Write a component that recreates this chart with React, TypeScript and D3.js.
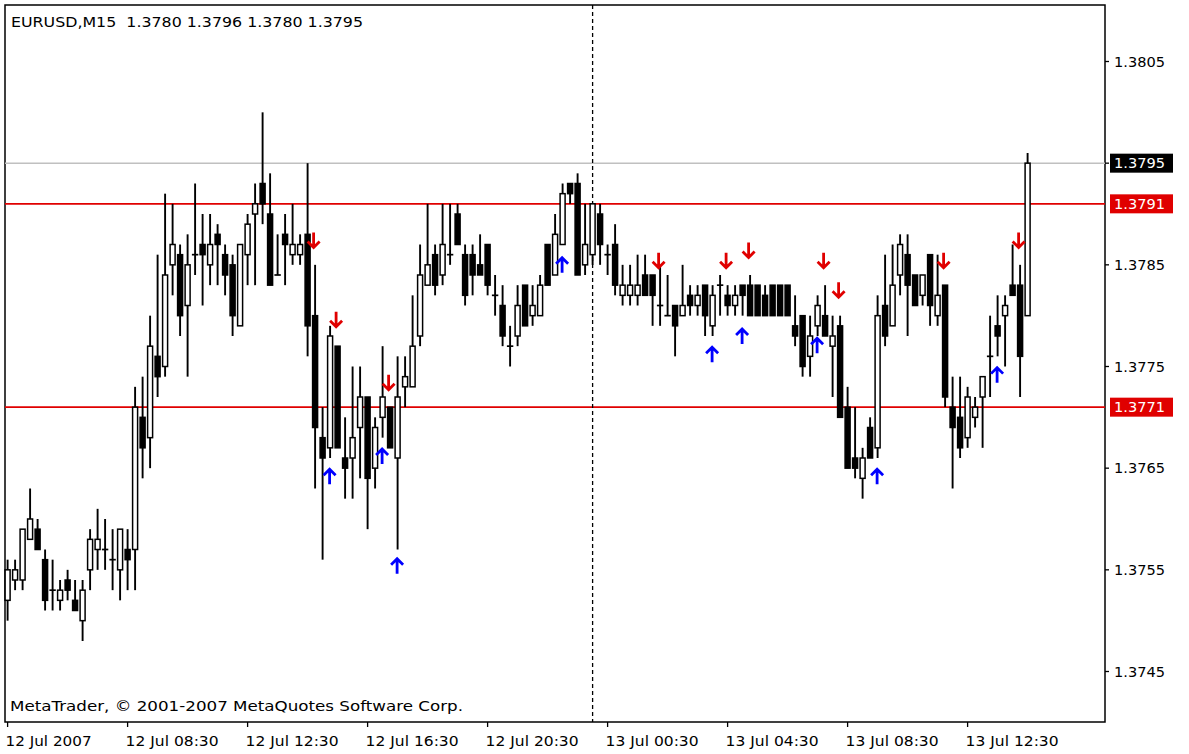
import React from 'react';
import * as d3 from 'd3';

// ---------- DATA ----------
const symbol = 'EURUSD,M15';
const opens = [
  1.3752, 1.3754, 1.3754, 1.3758, 1.3759, 1.3756, 1.3753, 1.3752, 1.3754, 1.3752,
  1.3750, 1.3755, 1.3757, 1.3757, 1.3756, 1.3755, 1.3757, 1.3757, 1.3770, 1.3768,
  1.3776, 1.3775, 1.3785, 1.3786, 1.3781, 1.3786, 1.3787, 1.3785, 1.3788, 1.3786,
  1.3785, 1.3779, 1.3786, 1.3790, 1.3793, 1.3790, 1.3784, 1.3788, 1.3786, 1.3786,
  1.3788, 1.3780, 1.3768, 1.3767, 1.3777, 1.3766, 1.3766, 1.3769, 1.3772, 1.3765,
  1.3770, 1.3771, 1.3766, 1.3773, 1.3773, 1.3778, 1.3783, 1.3786, 1.3784, 1.3786,
  1.3790, 1.3786, 1.3786, 1.3785, 1.3787, 1.3782, 1.3781, 1.3777, 1.3778, 1.3783,
  1.3780, 1.3780, 1.3787, 1.3784, 1.3787, 1.3793, 1.3793, 1.3785, 1.3786, 1.3790,
  1.3786, 1.3787, 1.3782, 1.3782, 1.3782, 1.3784, 1.3784, 1.3781, 1.3780, 1.3781,
  1.3780, 1.3782, 1.3781, 1.3783, 1.3779, 1.3783, 1.3782, 1.3781, 1.3783, 1.3783,
  1.3783, 1.3782, 1.3783, 1.3783, 1.3783, 1.3779, 1.3780, 1.3776, 1.3779, 1.3780,
  1.3777, 1.3779, 1.3771, 1.3766, 1.3764, 1.3769, 1.3767, 1.3781, 1.3779, 1.3784,
  1.3786, 1.3784, 1.3782, 1.3786, 1.3780, 1.3783, 1.3771, 1.3770, 1.3768, 1.3770,
  1.3772, 1.3776, 1.3779, 1.3780, 1.3783, 1.3783, 1.3780,
];
const highs = [
  1.3756, 1.3756, 1.3759, 1.3763, 1.3760, 1.3757, 1.3756, 1.3754, 1.3755, 1.3754,
  1.3754, 1.3759, 1.3761, 1.3760, 1.3759, 1.3759, 1.3759, 1.3773, 1.3774, 1.3780,
  1.3786, 1.3792, 1.3791, 1.3787, 1.3788, 1.3793, 1.3790, 1.3790, 1.3789, 1.3787,
  1.3786, 1.3787, 1.3790, 1.3793, 1.3800, 1.3794, 1.3788, 1.3790, 1.3791, 1.3788,
  1.3795, 1.3785, 1.3771, 1.3779, 1.3777, 1.3770, 1.3775, 1.3775, 1.3772, 1.3770,
  1.3777, 1.3771, 1.3776, 1.3776, 1.3782, 1.3787, 1.3791, 1.3787, 1.3791, 1.3791,
  1.3791, 1.3787, 1.3787, 1.3788, 1.3787, 1.3784, 1.3783, 1.3779, 1.3783, 1.3783,
  1.3783, 1.3784, 1.3787, 1.3790, 1.3793, 1.3793, 1.3794, 1.3791, 1.3791, 1.3791,
  1.3787, 1.3789, 1.3785, 1.3785, 1.3786, 1.3786, 1.3784, 1.3785, 1.3784, 1.3781,
  1.3785, 1.3783, 1.3783, 1.3783, 1.3783, 1.3784, 1.3783, 1.3783, 1.3783, 1.3784,
  1.3783, 1.3783, 1.3783, 1.3783, 1.3783, 1.3782, 1.3780, 1.3780, 1.3782, 1.3783,
  1.3780, 1.3780, 1.3773, 1.3771, 1.3767, 1.3770, 1.3782, 1.3786, 1.3787, 1.3788,
  1.3788, 1.3784, 1.3784, 1.3786, 1.3786, 1.3783, 1.3774, 1.3774, 1.3773, 1.3772,
  1.3774, 1.3780, 1.3782, 1.3782, 1.3787, 1.3785, 1.3796,
];
const lows = [
  1.3750, 1.3753, 1.3753, 1.3758, 1.3757, 1.3751, 1.3751, 1.3751, 1.3752, 1.3751,
  1.3748, 1.3753, 1.3755, 1.3755, 1.3753, 1.3752, 1.3753, 1.3753, 1.3764, 1.3765,
  1.3772, 1.3774, 1.3782, 1.3778, 1.3774, 1.3784, 1.3781, 1.3783, 1.3783, 1.3782,
  1.3778, 1.3779, 1.3783, 1.3783, 1.3789, 1.3783, 1.3784, 1.3783, 1.3785, 1.3785,
  1.3776, 1.3763, 1.3756, 1.3766, 1.3767, 1.3762, 1.3762, 1.3764, 1.3759, 1.3763,
  1.3768, 1.3767, 1.3757, 1.3771, 1.3773, 1.3777, 1.3783, 1.3782, 1.3783, 1.3785,
  1.3787, 1.3781, 1.3782, 1.3784, 1.3782, 1.3780, 1.3777, 1.3775, 1.3777, 1.3779,
  1.3779, 1.3780, 1.3783, 1.3784, 1.3787, 1.3791, 1.3784, 1.3784, 1.3785, 1.3785,
  1.3784, 1.3782, 1.3781, 1.3781, 1.3781, 1.3782, 1.3779, 1.3779, 1.3780, 1.3776,
  1.3780, 1.3780, 1.3780, 1.3778, 1.3778, 1.3780, 1.3780, 1.3780, 1.3780, 1.3780,
  1.3780, 1.3780, 1.3780, 1.3780, 1.3780, 1.3777, 1.3774, 1.3774, 1.3778, 1.3778,
  1.3772, 1.3770, 1.3765, 1.3764, 1.3762, 1.3766, 1.3766, 1.3777, 1.3779, 1.3782,
  1.3778, 1.3781, 1.3781, 1.3779, 1.3779, 1.3771, 1.3763, 1.3766, 1.3767, 1.3769,
  1.3767, 1.3772, 1.3776, 1.3775, 1.3782, 1.3772, 1.3780,
];
const closes = [
  1.3755, 1.3755, 1.3759, 1.3760, 1.3757, 1.3752, 1.3753, 1.3753, 1.3753, 1.3751,
  1.3753, 1.3758, 1.3758, 1.3757, 1.3756, 1.3759, 1.3756, 1.3771, 1.3767, 1.3777,
  1.3774, 1.3784, 1.3787, 1.3780, 1.3785, 1.3786, 1.3786, 1.3787, 1.3787, 1.3784,
  1.3780, 1.3787, 1.3789, 1.3791, 1.3791, 1.3783, 1.3784, 1.3787, 1.3787, 1.3787,
  1.3779, 1.3769, 1.3766, 1.3778, 1.3767, 1.3765, 1.3768, 1.3772, 1.3764, 1.3769,
  1.3772, 1.3767, 1.3772, 1.3774, 1.3777, 1.3784, 1.3785, 1.3783, 1.3787, 1.3786,
  1.3787, 1.3782, 1.3784, 1.3784, 1.3783, 1.3782, 1.3778, 1.3777, 1.3781, 1.3779,
  1.3781, 1.3783, 1.3783, 1.3788, 1.3792, 1.3792, 1.3784, 1.3787, 1.3791, 1.3787,
  1.3786, 1.3783, 1.3783, 1.3783, 1.3783, 1.3782, 1.3782, 1.3781, 1.3780, 1.3779,
  1.3781, 1.3781, 1.3782, 1.3780, 1.3782, 1.3783, 1.3781, 1.3782, 1.3782, 1.3780,
  1.3780, 1.3780, 1.3780, 1.3780, 1.3780, 1.3778, 1.3775, 1.3778, 1.3781, 1.3778,
  1.3778, 1.3770, 1.3765, 1.3765, 1.3766, 1.3766, 1.3780, 1.3778, 1.3783, 1.3787,
  1.3783, 1.3781, 1.3784, 1.3781, 1.3782, 1.3772, 1.3769, 1.3767, 1.3772, 1.3771,
  1.3774, 1.3776, 1.3778, 1.3781, 1.3782, 1.3776, 1.3795,
];

const timeLabels = [
  '12 Jul 2007', '12 Jul 08:30', '12 Jul 12:30', '12 Jul 16:30', '12 Jul 20:30',
  '13 Jul 00:30', '13 Jul 04:30', '13 Jul 08:30', '13 Jul 12:30',
];
const timeLabelBars = [0, 16, 32, 48, 64, 80, 96, 112, 128];
const daySeparatorBar = 78;

const priceTicks = [1.3805, 1.3795, 1.3785, 1.3775, 1.3765, 1.3755, 1.3745];
const levelLines = [1.3791, 1.3771];
const bidPrice = 1.3795;

const sellArrowBars = [41, 44, 51, 87, 96, 99, 109, 111, 125, 135];
const sellArrowPrices = [1.37874, 1.37796, 1.37734, 1.37854, 1.37854, 1.37864, 1.37854, 1.37825, 1.37854, 1.37874];
const buyArrowBars = [43, 50, 52, 74, 94, 98, 108, 116, 132];
const buyArrowPrices = [1.37642, 1.37662, 1.37554, 1.37850, 1.37762, 1.37780, 1.37771, 1.37642, 1.37742];

const copyright = 'MetaTrader, \u00A9 2001-2007 MetaQuotes Software Corp.';

// ---------- LAYOUT ----------
const W = 1189;
const H = 754;
const left = 5;
const top = 5;
const right = 1105;
const bottom = 722;
const FONT = '"DejaVu Sans", Tahoma, sans-serif';
const RED = '#e00000';
const BLUE = '#0000ff';

export default function App() {
  const n = opens.length;
  const x = d3.scaleLinear().domain([0, n - 1]).range([7.6, 7.6 + 7.5 * (n - 1)]);
  const y = d3.scaleLinear().domain([1.3745, 1.3805]).range([671.5, 61.5]);
  const fmt = d3.format('.4f');
  const bodyW = 5;

  const header = `${symbol}  ${fmt(opens[n - 1])} ${fmt(highs[n - 1])} ${fmt(lows[n - 1])} ${fmt(closes[n - 1])}`;

  return (
    <div style={{ position: 'absolute', left: 0, top: 0, width: W, height: H, background: '#fff' }}>
      <svg width={W} height={H} style={{ display: 'block' }} fontFamily={FONT}>
        <rect x={0} y={0} width={W} height={H} fill="#fff" />
        {/* frame */}
        <rect x={left} y={top} width={right - left} height={bottom - top} fill="none" stroke="#000" strokeWidth={1.5} />

        {/* bid line */}
        <line x1={left} x2={right} y1={y(bidPrice)} y2={y(bidPrice)} stroke="#c0c0c0" strokeWidth={1.5} />
        {/* level lines */}
        {levelLines.map((p) => (
          <line key={p} x1={left} x2={right} y1={y(p)} y2={y(p)} stroke={RED} strokeWidth={1.6} />
        ))}
        {/* day separator */}
        <line x1={x(daySeparatorBar)} x2={x(daySeparatorBar)} y1={top} y2={bottom} stroke="#000" strokeWidth={1.3} strokeDasharray="4,3" />

        {/* candles */}
        {opens.map((o, i) => {
          const c = closes[i];
          const cx = x(i);
          const yTop = y(Math.max(o, c));
          const yBot = y(Math.min(o, c));
          const bull = c > o;
          const doji = c === o;
          return (
            <g key={i}>
              <line x1={cx} x2={cx} y1={y(highs[i])} y2={y(lows[i])} stroke="#000" strokeWidth={1.9} />
              {doji ? (
                <line x1={cx - bodyW / 2 - 0.7} x2={cx + bodyW / 2 + 0.7} y1={yTop} y2={yTop} stroke="#000" strokeWidth={1.7} />
              ) : (
                <rect x={cx - bodyW / 2} y={yTop} width={bodyW} height={Math.max(1, yBot - yTop)} fill={bull ? '#fff' : '#000'} stroke="#000" strokeWidth={1.5} />
              )}
            </g>
          );
        })}

        {/* sell arrows */}
        {sellArrowBars.map((b, k) => {
          const cx = x(b) - 1.5;
          const cy = y(sellArrowPrices[k]);
          return (
            <path key={'s' + k} d={`M${cx},${cy - 8} L${cx},${cy + 7} M${cx - 6},${cy + 1} L${cx},${cy + 7} L${cx + 6},${cy + 1}`} fill="none" stroke={RED} strokeWidth={2.8} />
          );
        })}
        {/* buy arrows */}
        {buyArrowBars.map((b, k) => {
          const cx = x(b) - 0.5;
          const cy = y(buyArrowPrices[k]);
          return (
            <path key={'b' + k} d={`M${cx},${cy + 8} L${cx},${cy - 7} M${cx - 6},${cy - 1} L${cx},${cy - 7} L${cx + 6},${cy - 1}`} fill="none" stroke={BLUE} strokeWidth={2.8} />
          );
        })}

        {/* price axis */}
        {priceTicks.map((p) => (
          <g key={p}>
            <line x1={right} x2={right + 4} y1={y(p)} y2={y(p)} stroke="#000" strokeWidth={1.3} />
            <text x={right + 9} y={y(p)} dy="0.36em" fontSize={14} textLength={51} lengthAdjust="spacingAndGlyphs" fill="#000">{fmt(p)}</text>
          </g>
        ))}
        {/* bid label */}
        <rect x={right + 5} y={y(bidPrice) - 9.5} width={63} height={19} fill="#000" />
        <text x={right + 9} y={y(bidPrice)} dy="0.36em" fontSize={14} textLength={51} lengthAdjust="spacingAndGlyphs" fill="#fff">{fmt(bidPrice)}</text>
        {levelLines.map((p) => (
          <g key={'l' + p}>
            <rect x={right + 5} y={y(p) - 9.5} width={63} height={19} fill={RED} />
            <text x={right + 9} y={y(p)} dy="0.36em" fontSize={14} textLength={51} lengthAdjust="spacingAndGlyphs" fill="#fff">{fmt(p)}</text>
          </g>
        ))}

        {/* time axis */}
        {timeLabelBars.map((b, k) => (
          <g key={'t' + k}>
            <line x1={x(b)} x2={x(b)} y1={bottom} y2={bottom + 5} stroke="#000" strokeWidth={1.3} />
            <text x={x(b) - 2} y={746} fontSize={14} textLength={k === 0 ? 86 : 93} lengthAdjust="spacingAndGlyphs" fill="#000">{timeLabels[k]}</text>
          </g>
        ))}

        {/* header */}
        <text x={11} y={27} fontSize={14} fill="#000" textLength={352} lengthAdjust="spacingAndGlyphs" style={{ whiteSpace: 'pre' }}>{header}</text>
        {/* copyright */}
        <text x={10} y={711} fontSize={14} fill="#000" textLength={453} lengthAdjust="spacingAndGlyphs">{copyright}</text>
      </svg>
    </div>
  );
}
